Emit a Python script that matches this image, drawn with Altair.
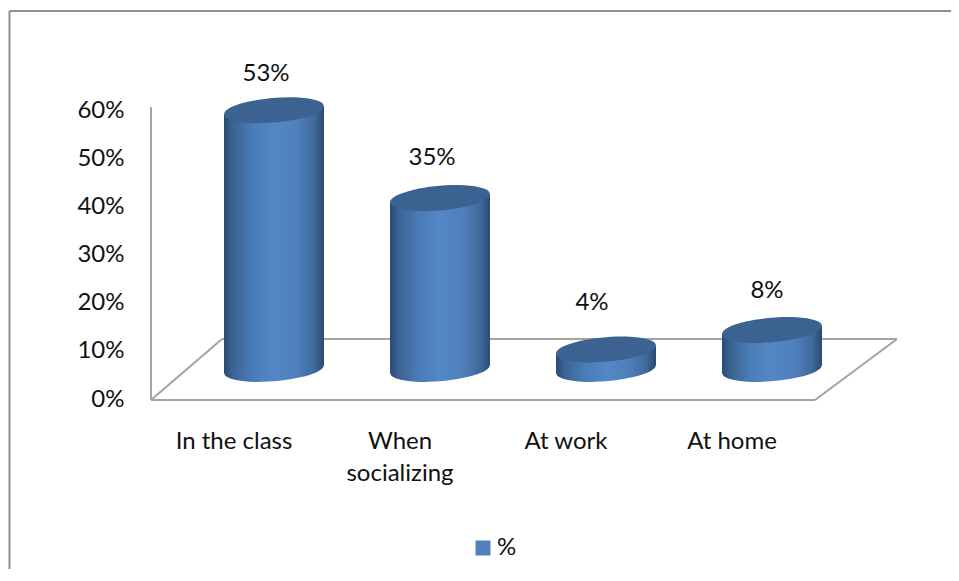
import altair as alt
import pandas as pd

categories = ["In the class", "When socializing", "At work", "At home"]
values = [0.53, 0.35, 0.04, 0.08]
tick_values = [0, 0.1, 0.2, 0.3, 0.4, 0.5, 0.6]
series_name = "%"

FONT = "Lato"
FS = 24
GREY = "#a3a3a3"
W, H = 664, 293

df = pd.DataFrame({"category": categories, "value": values, "base": [0.0] * len(values)})
one = pd.DataFrame({"k": [0]})
ticks = pd.DataFrame({"tick": tick_values})

yscale = alt.Scale(domain=[0, 0.6], nice=False)
xscale = alt.Scale(domain=categories, paddingInner=0, paddingOuter=0)
x_axis = alt.Axis(orient="bottom", domain=False, ticks=False, grid=False, title=None, labelAngle=0,
                  labelPadding=29.5, labelFontSize=FS, labelFont=FONT, labelColor="#111111",
                  labelLimit=300, labelLineHeight=32,
                  labelExpr="datum.label == 'When socializing' ? ['When', 'socializing'] : datum.label")
X = alt.X("category:N", scale=xscale, sort=categories, axis=x_axis)
Y = alt.Y("value:Q", scale=yscale, axis=None, stack=None)
Y0 = alt.Y("base:Q", scale=yscale, axis=None, stack=None)

ELLIPSE = "M-0.996,0.087 A1,0.24,-5,1,1,0.996,-0.087 A1,0.24,-5,1,1,-0.996,0.087 Z"
DEPTH = 31   # the bars stand in the middle of the floor's depth
SHIFT = 40
TILT = 4


def seg(stops):
    return alt.Gradient(gradient="linear", x1=0, x2=1, y1=0, y2=0,
                        stops=[alt.GradientStop(offset=o, color=c) for o, c in stops])


full = seg([(0, "#2b4a72"), (0.08, "#3a6291"), (0.28, "#4a7cb6"), (0.5, "#5487c7"),
            (0.72, "#4f80bd"), (0.9, "#3f6a9c"), (1, "#2c4a70")])
left = seg([(0, "#2b4a72"), (0.16, "#3a6291"), (0.56, "#4a7cb6"), (1, "#5487c7")])
right = seg([(0, "#5487c7"), (0.44, "#4f80bd"), (0.8, "#3f6a9c"), (1, "#2c4a70")])


def rule(x, y, x2, y2, color=GREY, width=2):
    return alt.Chart(one).mark_rule(color=color, strokeWidth=width).encode(
        x=alt.value(x), y=alt.value(y), x2=alt.value(x2), y2=alt.value(y2))


layers = [
    # frame
    rule(-141.5, -96, 800, -96, "#8f8f8f", 2),
    rule(-141.5, -96, -141.5, 462, "#8f8f8f", 2),
    # wall line and floor
    rule(0, 0, 0, H),
    rule(0, H, W, H),
    rule(0, H, 71, 232),
    rule(71, 232, 746, 232),
    rule(746, 232, W, H),
    # y axis labels
    alt.Chart(ticks).mark_point(opacity=0).encode(
        y=alt.Y("tick:Q", scale=alt.Scale(domain=[0, 0.6], nice=False, range=[292, 3]),
                axis=alt.Axis(orient="left", values=tick_values, format=".0%", domain=False, ticks=False,
                              grid=False, title=None, labelPadding=27, labelFontSize=FS, labelFont=FONT,
                              labelColor="#111111"))),
    # bottom caps
    alt.Chart(df).mark_point(shape=ELLIPSE, size=10000, filled=True, fill=full, opacity=1, strokeWidth=0,
                             xOffset=SHIFT, yOffset=-DEPTH).encode(x=X, y=Y0),
    # cylinder bodies
    alt.Chart(df).mark_bar(width=50, fill=right, xOffset=SHIFT + 25, yOffset=-DEPTH - TILT,
                           y2Offset=-DEPTH - TILT).encode(x=X, y=Y, y2="base:Q"),
    alt.Chart(df).mark_bar(width=51, fill=left, xOffset=SHIFT - 24.5, yOffset=-DEPTH + TILT,
                           y2Offset=-DEPTH + TILT).encode(x=X, y=Y, y2="base:Q"),
    # top caps
    alt.Chart(df).mark_point(shape=ELLIPSE, size=10000, filled=True, fill="#3c6291", opacity=1, strokeWidth=0,
                             xOffset=SHIFT, yOffset=-DEPTH).encode(x=X, y=Y),
]

# value labels, each placed where the reference has it
for cat, dx, dy in zip(categories, [32, 32, 26, 35], [-67, -71, -77, -70]):
    layers.append(
        alt.Chart(df).transform_filter(alt.datum.category == cat)
        .mark_text(font=FONT, fontSize=FS, color="#111111", xOffset=dx, yOffset=dy)
        .encode(x=X, y=Y, text=alt.Text("value:Q", format=".0%")))

# legend
layers.append(
    alt.Chart(pd.DataFrame({"series": [series_name], "value": [0.0]})).mark_point(
        shape="square", filled=True, size=0, opacity=1).encode(
        y=alt.Y("value:Q", scale=yscale, axis=None),
        color=alt.Color("series:N", scale=alt.Scale(domain=[series_name], range=["#4f81bd"]),
                        legend=alt.Legend(orient="none", legendX=320, legendY=429, title=None, labelOffset=2,
                                          symbolType="square", symbolSize=225, symbolStrokeWidth=0, symbolOpacity=1,
                                          labelFontSize=FS, labelFont=FONT, labelColor="#111111"))))

chart = alt.layer(*layers).resolve_scale(y="independent").properties(
    width=W, height=H, background="white",
    padding={"left": 143, "top": 99, "right": 136, "bottom": 169},
    autosize=alt.AutoSizeParams(type="none"),
).configure_view(stroke=None)

chart.save("out.html", embed_options={"renderer": "svg", "actions": False})
